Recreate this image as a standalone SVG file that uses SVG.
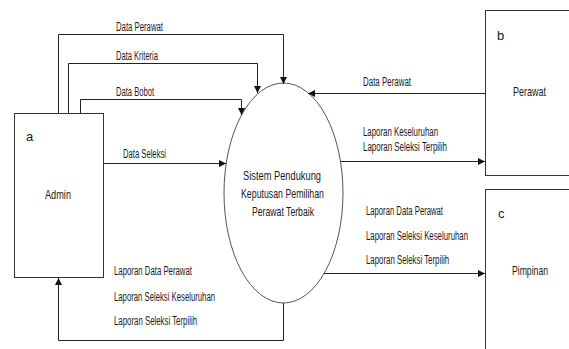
<svg xmlns="http://www.w3.org/2000/svg" width="569" height="349" viewBox="0 0 569 349">
<style>
text{font-family:"Liberation Sans",Arial,sans-serif;font-size:12.5px;fill:#1a1a1a}
.t{font-size:13.5px}
.e{font-size:13px}
.box{fill:#fff;stroke:#333;stroke-width:1}
.proc{fill:#fff;stroke:#555;stroke-width:1}
.ln{fill:none;stroke:#222;stroke-width:1}
</style>
<defs>
<marker id="ah" markerUnits="userSpaceOnUse" markerWidth="8" markerHeight="8" refX="7" refY="3.5" orient="auto">
<path d="M0,0 L7,3.5 L0,7 z" fill="#111"/>
</marker>
</defs>
<rect width="569" height="349" fill="#fff"/>
<g id="admin">
<rect class="box" x="14.5" y="113.5" width="89" height="164"/>
<text class="e" x="26" y="141">a</text>
<text class="e" x="45" y="199" textLength="26" lengthAdjust="spacingAndGlyphs">Admin</text>
</g>
<g id="perawat">
<rect class="box" x="485.5" y="10.5" width="100" height="165"/>
<text class="e" x="497" y="40">b</text>
<text class="e" x="513" y="96" textLength="33" lengthAdjust="spacingAndGlyphs">Perawat</text>
</g>
<g id="pimpinan">
<rect class="box" x="485.5" y="189.5" width="100" height="200"/>
<text class="e" x="498" y="218">c</text>
<text class="e" x="512" y="275" textLength="36" lengthAdjust="spacingAndGlyphs">Pimpinan</text>
</g>
<g id="sistem">
<ellipse class="proc" cx="283.5" cy="193" rx="59.5" ry="110"/>
<text class="t" x="243" y="180" textLength="78" lengthAdjust="spacingAndGlyphs">Sistem Pendukung</text>
<text class="t" x="241" y="198" textLength="83" lengthAdjust="spacingAndGlyphs">Keputusan Pemilihan</text>
<text class="t" x="252" y="216" textLength="62" lengthAdjust="spacingAndGlyphs">Perawat Terbaik</text>
</g>
<g id="connectors">
<path class="ln" d="M58.5,113 V34.5 H283.5 V84" marker-end="url(#ah)"/>
<path class="ln" d="M68.5,113 V63.5 H257.5 V93" marker-end="url(#ah)"/>
<path class="ln" d="M80.5,113 V99.5 H241.5 V115" marker-end="url(#ah)"/>
<path class="ln" d="M104,163.5 H226" marker-end="url(#ah)"/>
<path class="ln" d="M485,93.5 H308" marker-end="url(#ah)"/>
<path class="ln" d="M340.5,161.5 H485" marker-end="url(#ah)"/>
<path class="ln" d="M324,273.5 H485" marker-end="url(#ah)"/>
<path class="ln" d="M283.5,303 V340.5 H58.5 V278" marker-end="url(#ah)"/>
<text x="116" y="31" textLength="47" lengthAdjust="spacingAndGlyphs">Data Perawat</text>
<text x="116" y="60" textLength="42" lengthAdjust="spacingAndGlyphs">Data Kriteria</text>
<text x="116" y="96" textLength="38" lengthAdjust="spacingAndGlyphs">Data Bobot</text>
<text x="123" y="158" textLength="43" lengthAdjust="spacingAndGlyphs">Data Seleksi</text>
<text x="363" y="86" textLength="48" lengthAdjust="spacingAndGlyphs">Data Perawat</text>
<text x="363" y="136" textLength="75" lengthAdjust="spacingAndGlyphs">Laporan Keseluruhan</text>
<text x="363" y="151" textLength="84" lengthAdjust="spacingAndGlyphs">Laporan Seleksi Terpilih</text>
<text x="366" y="215" textLength="77" lengthAdjust="spacingAndGlyphs">Laporan Data Perawat</text>
<text x="366" y="240" textLength="102" lengthAdjust="spacingAndGlyphs">Laporan Seleksi Keseluruhan</text>
<text x="366" y="264" textLength="83" lengthAdjust="spacingAndGlyphs">Laporan Seleksi Terpilih</text>
<text x="114" y="275" textLength="78" lengthAdjust="spacingAndGlyphs">Laporan Data Perawat</text>
<text x="114" y="301" textLength="101" lengthAdjust="spacingAndGlyphs">Laporan Seleksi Keseluruhan</text>
<text x="114" y="325" textLength="83" lengthAdjust="spacingAndGlyphs">Laporan Seleksi Terpilih</text>
</g>
</svg>
